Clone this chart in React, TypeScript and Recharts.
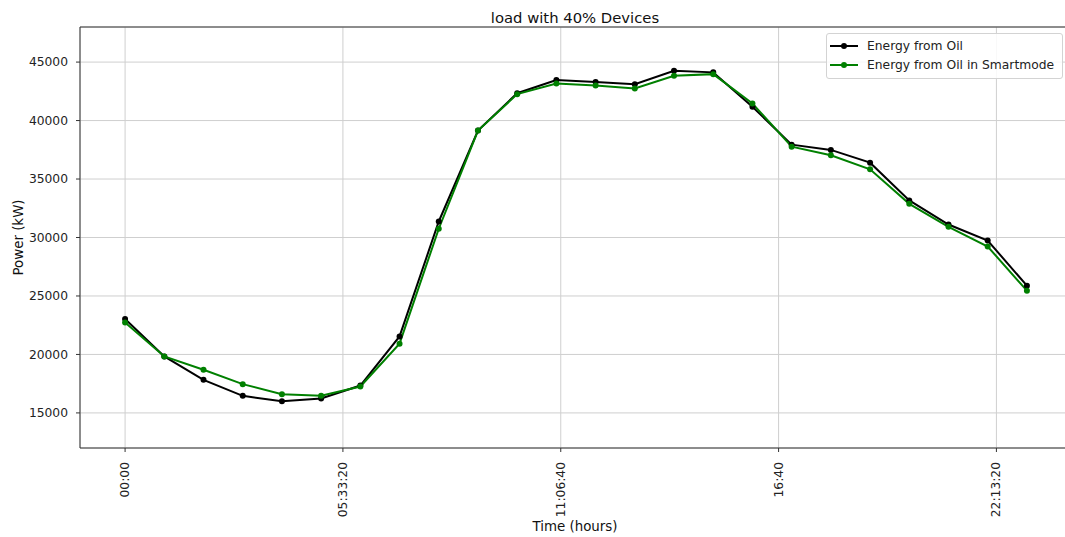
import React from "react";
import {
  LineChart,
  Line,
  XAxis,
  YAxis,
  CartesianGrid,
  ReferenceLine,
  Label,
} from "recharts";

const timesSec = [
  0, 3600, 7200, 10800, 14400, 18000, 21600, 25200, 28800, 32400, 36000, 39600,
  43200, 46800, 50400, 54000, 57600, 61200, 64800, 68400, 72000, 75600, 79200, 82800,
];
const energyOil = [
  23030, 19830, 17830, 16460, 16000, 16230, 17340, 21540, 31370, 39140, 42340, 43460,
  43290, 43110, 44260, 44120, 41180, 37940, 37490, 36400, 33170, 31110, 29740, 25880,
];
const energyOilSmart = [
  22740, 19830, 18690, 17460, 16600, 16460, 17260, 20920, 30750, 39140, 42260, 43170,
  43000, 42750, 43830, 43970, 41460, 37770, 37030, 35830, 32880, 30910, 29230, 25450,
];
const xTicks = [0, 20000, 40000, 60000, 80000];
const xTickLabels = ["00:00", "05:33:20", "11:06:40", "16:40", "22:13:20"];
const yTicks = [15000, 20000, 25000, 30000, 35000, 40000, 45000];
const seriesNames = ["Energy from Oil", "Energy from Oil in Smartmode"];
const seriesColors = ["#000000", "#008000"];

const data = timesSec.map((t, i) => ({
  t,
  oil: energyOil[i],
  smart: energyOilSmart[i],
}));

const FONT = "DejaVu Sans, sans-serif";
const SPINE = "#333333";

const XTick = (props: any) => {
  const { x, y, payload } = props;
  const idx = xTicks.indexOf(payload.value);
  const label = idx >= 0 ? xTickLabels[idx] : String(payload.value);
  return (
    <text
      x={0}
      y={0}
      transform={`translate(${x},${y}) rotate(-90)`}
      textAnchor="end"
      dominantBaseline="central"
      fontFamily={FONT}
      fontSize={12.3}
      fill="#222"
    >
      {label}
    </text>
  );
};

const LegendBox = () => (
  <div
    style={{
      position: "absolute",
      left: 826,
      top: 33,
      border: "1px solid #d3d3d3",
      borderRadius: 3,
      background: "rgba(255,255,255,0.85)",
      padding: "2px 8px 4px 3px",
      fontFamily: FONT,
      fontSize: 12.3,
      color: "#222",
      boxSizing: "border-box",
      width: 237,
    }}
  >
    {seriesNames.map((n, i) => (
      <div key={n} style={{ display: "flex", alignItems: "center", height: 19 }}>
        <svg width={28} height={10} style={{ flex: "none" }}>
          <line x1={0} y1={5} x2={28} y2={5} stroke={seriesColors[i]} strokeWidth={2} />
          <circle cx={14} cy={5} r={3} fill={seriesColors[i]} />
        </svg>
        <span style={{ marginLeft: 9, whiteSpace: "nowrap" }}>{n}</span>
      </div>
    ))}
  </div>
);

export default function App() {
  return (
    <div
      style={{
        position: "absolute",
        left: 0,
        top: 0,
        width: 1065,
        height: 537,
        overflow: "hidden",
        background: "#fff",
      }}
    >
      <LineChart
        width={1080}
        height={537}
        data={data}
        margin={{ top: 27, right: 8, bottom: 0, left: 0 }}
      >
        <CartesianGrid stroke="#cfcfcf" strokeWidth={1} />
        <XAxis
          dataKey="t"
          type="number"
          domain={[-4140, 86940]}
          ticks={xTicks}
          allowDataOverflow
          height={89}
          tick={<XTick />}
          tickSize={4}
          tickMargin={10}
          interval={0}
          axisLine={{ stroke: SPINE }}
          tickLine={{ stroke: SPINE }}
        >
          <Label
            content={() => (
              <text
                x={575}
                y={526}
                textAnchor="middle"
                dominantBaseline="central"
                fontFamily={FONT}
                fontSize={13.4}
                fill="#111"
              >
                Time (hours)
              </text>
            )}
          />
        </XAxis>
        <YAxis
          type="number"
          domain={[12000, 48000]}
          ticks={yTicks}
          allowDataOverflow
          width={80}
          tickSize={4}
          tickMargin={8}
          interval={0}
          tick={{ fontFamily: FONT, fontSize: 12.3, fill: "#222" }}
          axisLine={{ stroke: SPINE }}
          tickLine={{ stroke: SPINE }}
        >
          <Label
            content={(p: any) => {
              const vb = p.viewBox || {};
              const cy = vb.y + vb.height / 2;
              return (
                <text
                  x={0}
                  y={0}
                  transform={`translate(18.5,${cy}) rotate(-90)`}
                  textAnchor="middle"
                  dominantBaseline="central"
                  fontFamily={FONT}
                  fontSize={13.4}
                  fill="#111"
                >
                  Power (kW)
                </text>
              );
            }}
          />
        </YAxis>
        <ReferenceLine
          y={48000}
          stroke={SPINE}
          strokeWidth={1}
          ifOverflow="visible"
          label={() => (
            <text
              x={575}
              y={17}
              textAnchor="middle"
              dominantBaseline="central"
              fontFamily={FONT}
              fontSize={14.8}
              fill="#111"
            >
              load with 40% Devices
            </text>
          )}
        />
        <Line
          type="linear"
          dataKey="oil"
          name={seriesNames[0]}
          stroke={seriesColors[0]}
          strokeWidth={2}
          dot={{ r: 3, fill: seriesColors[0], stroke: seriesColors[0], strokeWidth: 0 }}
          activeDot={false}
          isAnimationActive={false}
        />
        <Line
          type="linear"
          dataKey="smart"
          name={seriesNames[1]}
          stroke={seriesColors[1]}
          strokeWidth={2}
          dot={{ r: 3, fill: seriesColors[1], stroke: seriesColors[1], strokeWidth: 0 }}
          activeDot={false}
          isAnimationActive={false}
        />
      </LineChart>
      <LegendBox />
    </div>
  );
}
